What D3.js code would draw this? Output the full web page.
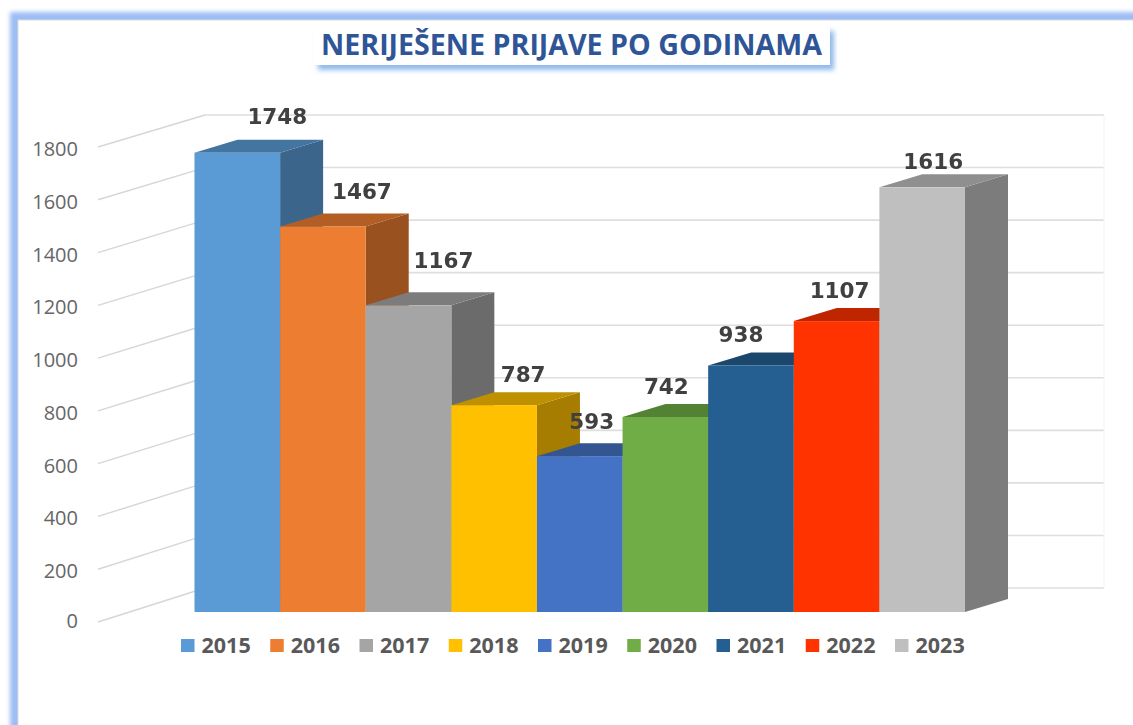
<!DOCTYPE html>
<html><head><meta charset="utf-8">
<script src="https://cdn.jsdelivr.net/npm/d3@7"></script>
<style>html,body{margin:0;padding:0;background:#fff;overflow:hidden}svg{display:block}</style>
</head><body><svg id="c" width="1133" height="725"></svg>
<script>
const years = ["2015","2016","2017","2018","2019","2020","2021","2022","2023"];
const values = [1748,1467,1167,787,593,742,938,1107,1616];
const colors = ["#5B9BD5","#ED7D31","#A5A5A5","#FFC000","#4472C4","#70AD47","#255E91","#FF3300","#BFBFBF"];
const yTicks = [0,200,400,600,800,1000,1200,1400,1600,1800];
const titleText = "NERIJEŠENE PRIJAVE PO GODINAMA";
// hand-placed label offsets from the top-front-centre of each bar
const labelDx = [40,39,35,29,12,1,-10,3,11];
const labelDy = [-37,-36,-45,-31,-35,-31,-32,-31,-26];

const svg = d3.select("#c");
const defs = svg.append("defs");
defs.append("filter").attr("id","b4").attr("x","-5%").attr("y","-5%").attr("width","110%").attr("height","110%")
  .append("feGaussianBlur").attr("stdDeviation",2.2);
defs.append("filter").attr("id","b2").attr("x","-10%").attr("y","-30%").attr("width","120%").attr("height","160%")
  .append("feGaussianBlur").attr("stdDeviation",2.5);
defs.append("filter").attr("id","soft").append("feGaussianBlur").attr("stdDeviation",0.35);

// frame
svg.append("rect").attr("x",10).attr("y",12).attr("width",1200).attr("height",800).attr("fill","#9dbdf5").attr("filter","url(#b4)");
svg.append("rect").attr("x",18).attr("y",20).attr("width",1200).attr("height",800).attr("fill","#fff").attr("stroke","#dcdcdc").attr("stroke-width",1);

// scales
const x = d3.scaleBand().domain(years).range([194.5,965]).padding(0);
const y = d3.scaleLinear().domain([0,1800]).range([612,139]);
const yBack = d3.scaleLinear().domain([0,1800]).range([588,115]);
const yLeft = d3.scaleLinear().domain([0,1800]).range([622,147]);
const dx = 43, dy = 13, wallX0 = 98, wallX1 = 205, wallX2 = 1104;

const grid = svg.append("g");
yTicks.forEach(t=>{
  grid.append("line").attr("x1",wallX0).attr("y1",yLeft(t)).attr("x2",wallX1).attr("y2",yBack(t)).attr("stroke","#d6d6d6").attr("stroke-width",1.4);
  grid.append("line").attr("x1",wallX1).attr("y1",yBack(t)).attr("x2",wallX2).attr("y2",yBack(t)).attr("stroke","#dedede").attr("stroke-width",1.6);
});
grid.append("line").attr("x1",wallX2).attr("x2",wallX2).attr("y1",yBack(0)).attr("y2",yBack(1800)).attr("stroke","#f2f2f2");

svg.append("g").selectAll("text").data(yTicks).join("text")
  .attr("x",78).attr("y",d=>yLeft(d)+(d===0?5.5:9))
  .attr("text-anchor","end")
  .attr("font-family","'Open Sans'").attr("font-size",20).attr("fill","#666").text(d=>d);

// bars
const bars = svg.append("g");
years.forEach((yr,i)=>{
  const xa = x(yr), xb = xa + x.bandwidth(), yt = y(values[i]), y0 = y(0);
  const c = d3.color(colors[i]);
  const shade = k => d3.rgb(c.r*k,c.g*k,c.b*k).formatHex();
  bars.append("path").attr("fill",shade(.65))
    .attr("d",`M${xb},${yt}L${xb+dx},${yt-dy}L${xb+dx},${y0-dy}L${xb},${y0}Z`);
  bars.append("path").attr("fill",shade(.75))
    .attr("d",`M${xa},${yt}L${xa+dx},${yt-dy}L${xb+dx},${yt-dy}L${xb},${yt}Z`);
  bars.append("rect").attr("x",xa).attr("y",yt).attr("width",x.bandwidth()).attr("height",y0-yt).attr("fill",colors[i]);
});

// labels
svg.append("g").selectAll("text").data(values).join("text")
  .attr("x",(d,i)=>x(years[i])+x.bandwidth()/2+labelDx[i])
  .attr("y",(d,i)=>y(d)+labelDy[i]+8)
  .attr("text-anchor","middle").attr("font-family","'DejaVu Sans'").attr("font-weight","bold")
  .attr("font-size",21.5).attr("fill","#404040").attr("filter","url(#soft)").text(d=>d);

// legend
const legendX = d3.scalePoint().domain(years).range([181,895]);
const lg = svg.append("g");
years.forEach((yr,i)=>{
  lg.append("rect").attr("x",legendX(yr)).attr("y",639).attr("width",13.5).attr("height",13).attr("fill",colors[i]);
  lg.append("text").attr("x",legendX(yr)+20.5).attr("y",653).attr("font-family","'Open Sans'").attr("font-weight","bold")
    .attr("font-size",21.5).attr("fill","#595959").text(yr);
});

// title
svg.append("rect").attr("x",318).attr("y",31).attr("width",516).attr("height",39).attr("fill","#8fb9ec").attr("filter","url(#b2)");
svg.append("rect").attr("x",314).attr("y",26).attr("width",516).attr("height",39).attr("fill","#fff");
svg.append("text").attr("x",571.5).attr("y",54.5).attr("text-anchor","middle").attr("font-family","'Open Sans'")
  .attr("font-weight","bold").attr("font-size",28.6).attr("fill","#2F5597").text(titleText);
</script></body></html>
